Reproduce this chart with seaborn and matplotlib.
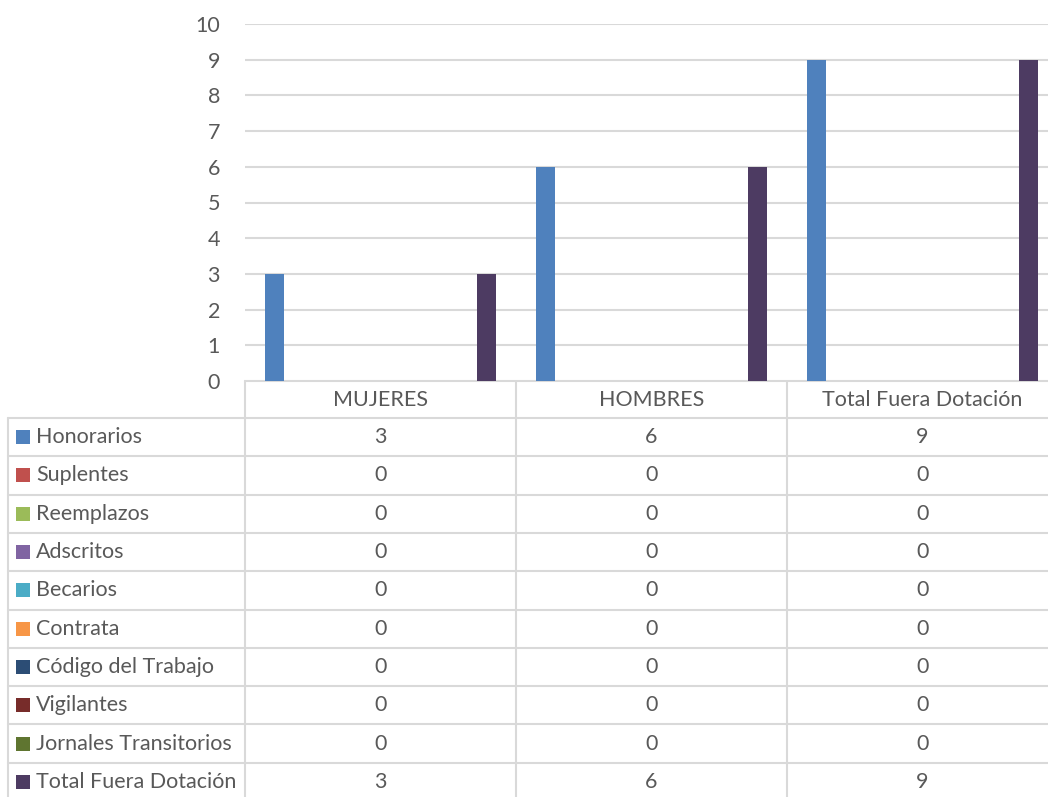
import matplotlib
matplotlib.use("Agg")
import matplotlib.pyplot as plt
import seaborn as sns
import pandas as pd
from matplotlib.patches import Rectangle

categories = ["MUJERES", "HOMBRES", "Total Fuera Dotación"]
series = [
    "Honorarios", "Suplentes", "Reemplazos", "Adscritos", "Becarios",
    "Contrata", "Código del Trabajo", "Vigilantes", "Jornales Transitorios",
    "Total Fuera Dotación",
]
honorarios = [3, 6, 9]
suplentes = [0, 0, 0]
reemplazos = [0, 0, 0]
adscritos = [0, 0, 0]
becarios = [0, 0, 0]
contrata = [0, 0, 0]
codigo_trabajo = [0, 0, 0]
vigilantes = [0, 0, 0]
jornales = [0, 0, 0]
total_fuera = [3, 6, 9]
y_ticks = list(range(0, 11))

colors = ["#4F81BD", "#C0504D", "#9BBB59", "#8064A2", "#4BACC6",
          "#F79646", "#2C4D75", "#772C2A", "#5F7530", "#4D3B62"]

values = [honorarios, suplentes, reemplazos, adscritos, becarios,
          contrata, codigo_trabajo, vigilantes, jornales, total_fuera]

rows = []
for name, vals in zip(series, values):
    for cat, v in zip(categories, vals):
        rows.append({"Categoria": cat, "Serie": name, "Valor": v})
df = pd.DataFrame(rows)

TEXT = "#595959"
GRID = "#D9D9D9"
FONT = ["Lato", "DejaVu Sans"]
FS = 15.5

sns.set_theme(style="white")
plt.rcParams["font.family"] = FONT

W, H = 1048, 797
fig = plt.figure(figsize=(W / 100, H / 100), dpi=100)
fig.patch.set_facecolor("white")

# pixel layout of the plot area
left, right, top, bottom = 245, 1058, 24, 381
ax = fig.add_axes([left / W, (H - bottom) / H, (right - left) / W, (bottom - top) / H])

sns.barplot(
    data=df, x="Categoria", y="Valor", hue="Serie",
    order=categories, hue_order=series, palette=colors,
    width=0.868, gap=0.19, ax=ax, legend=False, saturation=1, linewidth=0,
)
ax.set_xlim(-0.5, len(categories) - 0.5)
ax.set_ylim(0, 10)
ax.set_yticks(y_ticks)
ax.set_xticks([])
ax.set_xlabel("")
ax.set_ylabel("")
ax.yaxis.grid(True, color=GRID, linewidth=1.5)
ax.set_axisbelow(True)
for side in ["top", "right", "left", "bottom"]:
    ax.spines[side].set_visible(False)
ax.tick_params(axis="y", length=0, pad=18, labelsize=FS, labelcolor=TEXT)
for lbl in ax.get_yticklabels():
    lbl.set_family(FONT)

# data table under the chart, drawn in pixel coordinates
tax = fig.add_axes([0, 0, 1, 1], zorder=-1)
tax.set_xlim(0, W)
tax.set_ylim(H, 0)
tax.axis("off")

col_edges = [245, 516, 787, 1058]
header_bottom = 418
row_h = 38.3
table_left = 8
lw = 1.5

tax.plot([245, W], [bottom, bottom], color=GRID, lw=lw)
tax.plot([table_left, W], [header_bottom, header_bottom], color=GRID, lw=lw)
for k in range(1, len(series)):
    yy = header_bottom + k * row_h
    tax.plot([table_left, W], [yy, yy], color=GRID, lw=lw)
for xx in col_edges[:-1]:
    tax.plot([xx, xx], [bottom, H], color=GRID, lw=lw)
tax.plot([table_left, table_left], [header_bottom, H], color=GRID, lw=lw)

col_centers = [(a + b) / 2 for a, b in zip(col_edges[:-1], col_edges[1:])]
for cx, cat in zip(col_centers, categories):
    tax.text(cx, (bottom + header_bottom) / 2, cat, ha="center", va="center",
             color=TEXT, fontsize=FS, family=FONT)

for i, (name, vals, c) in enumerate(zip(series, values, colors)):
    yc = header_bottom + (i + 0.5) * row_h
    tax.add_patch(Rectangle((16, yc - 7), 14, 14, facecolor=c, edgecolor="none"))
    tax.text(36, yc, name, ha="left", va="center", color=TEXT, fontsize=FS, family=FONT)
    for cx, v in zip(col_centers, vals):
        tax.text(cx, yc, str(v), ha="center", va="center", color=TEXT, fontsize=FS, family=FONT)

fig.savefig("out.png", dpi=100)
